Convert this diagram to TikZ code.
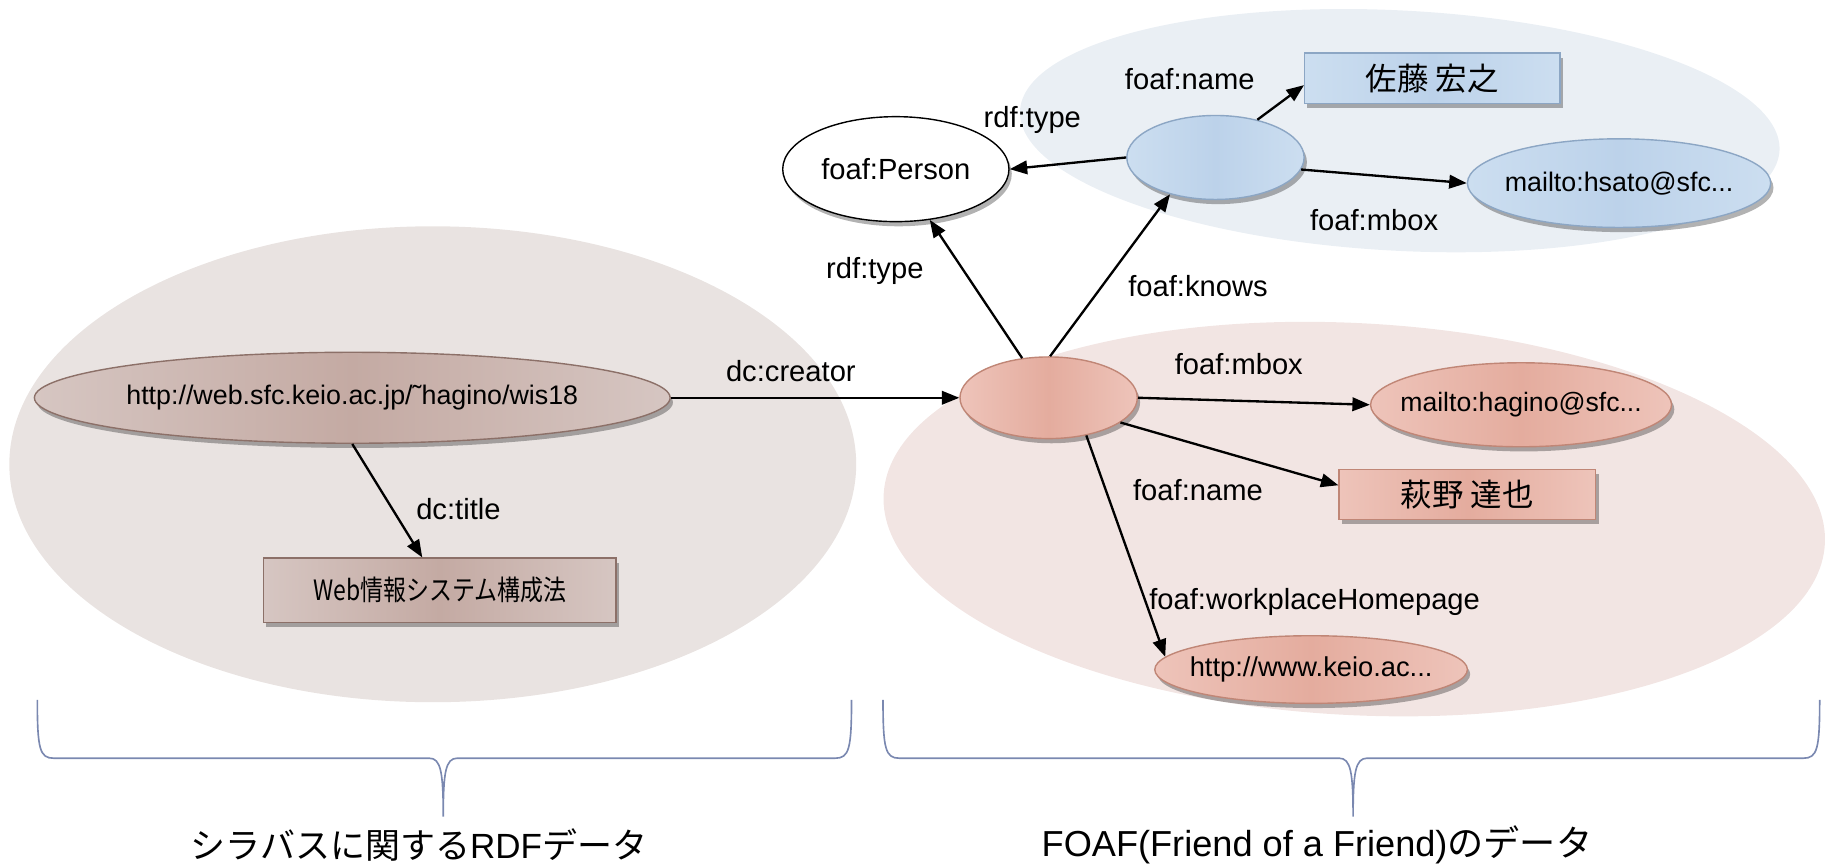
\documentclass[tikz,border=0pt]{standalone}
\usepackage{fontspec}
\setmainfont{Liberation Sans}
\newfontfamily\jp{Noto Sans CJK JP}
\newfontfamily\jpn[FakeStretch=0.82]{Noto Sans CJK JP}
\usetikzlibrary{arrows.meta,shapes.geometric,shadows}
\definecolor{leftbg}{RGB}{233,227,225}
\definecolor{pinkbg}{RGB}{242,229,227}
\definecolor{bluebg}{RGB}{234,239,244}
\definecolor{brownlt}{RGB}{214,198,194}
\definecolor{browndk}{RGB}{196,170,163}
\definecolor{browndraw}{RGB}{140,112,104}
\definecolor{pinklt}{RGB}{238,196,186}
\definecolor{pinkdk}{RGB}{228,172,158}
\definecolor{pinkdraw}{RGB}{192,134,118}
\definecolor{bluelt}{RGB}{204,222,240}
\definecolor{bluedk}{RGB}{188,210,234}
\definecolor{bluedraw}{RGB}{140,166,196}
\definecolor{bracecol}{RGB}{122,136,176}
\tikzset{
  shd/.style={drop shadow={shadow xshift=1.2pt,shadow yshift=-2pt,opacity=.3,fill=black}},
  ell/.style={ellipse,inner sep=0pt,shd},
  brownsh/.style={left color=brownlt,right color=brownlt,middle color=browndk,draw=browndraw,line width=0.6pt},
  pinksh/.style={left color=pinklt,right color=pinklt,middle color=pinkdk,draw=pinkdraw,line width=0.6pt},
  bluesh/.style={left color=bluelt,right color=bluelt,middle color=bluedk,draw=bluedraw,line width=0.6pt},
  brownell/.style={ell,brownsh},
  pinkell/.style={ell,pinksh},
  blueell/.style={ell,bluesh},
  brownbox/.style={rectangle,inner sep=0pt,shd,brownsh},
  pinkbox/.style={rectangle,inner sep=0pt,shd,pinksh},
  bluebox/.style={rectangle,inner sep=0pt,shd,bluesh},
  txt/.style={inner sep=0pt},
  lbl/.style={inner sep=0pt,font=\fontsize{12.5}{15}\selectfont},
  arr/.style={-{Triangle[length=7.5pt,width=5.8pt]},line width=1pt,black},
  brace/.style={draw=bracecol,line width=0.7pt},
}
\begin{document}
\begin{tikzpicture}[x=0.5pt,y=-0.5pt]
\useasboundingbox (0,0) rectangle (1568,740);
% backgrounds
\fill[leftbg] (371,398) ellipse [x radius=181.5pt,y radius=102pt];
\fill[pinkbg,rotate around={-3:(1161,445)}] (1161,445) ellipse [x radius=202pt,y radius=84pt];
\fill[bluebg,rotate around={-3:(1200,112)}] (1200,112) ellipse [x radius=163pt,y radius=51.5pt];
% nodes
\node[ell,draw=black,fill=white,line width=0.6pt,minimum width=97pt,minimum height=45pt,drop shadow={opacity=0}] (person) at (768,145) {};
\node[txt] (persont) at (person) {\fontsize{12.5}{15}\selectfont foaf:Person};
\node[blueell,minimum width=76pt,minimum height=36pt] (bnode) at (1042,135) {};
\node[bluebox,minimum width=109.5pt,minimum height=21.5pt] (sato) at (1228,67) {\jp\fontsize{13.5}{16}\selectfont 佐藤 宏之};
\node[blueell,minimum width=130pt,minimum height=38pt] (hsato) at (1388,157) {};
\node[txt] (hsatot) at (hsato) {\fontsize{11.5}{14}\selectfont mailto:hsato@sfc...};
\node[pinkell,minimum width=76pt,minimum height=35pt] (pnode) at (899,341) {};
\node[pinkell,minimum width=129pt,minimum height=36pt] (hmail) at (1304,347) {};
\node[txt] (hmailt) at (hmail) {\fontsize{11.4}{14}\selectfont mailto:hagino@sfc...};
\node[pinkbox,minimum width=110pt,minimum height=21.5pt] (hname) at (1258,424) {\jp\fontsize{13.5}{16}\selectfont 萩野 達也};
\node[pinkell,minimum width=134pt,minimum height=29pt] (keio) at (1124,574) {};
\node[txt] (keiot) at (keio) {\fontsize{11.7}{14}\selectfont http://www.keio.ac...};
\node[brownell,minimum width=272.5pt,minimum height=39pt] (wis) at (302,341) {};
\node[txt] (wist) at (wis) {\fontsize{11.5}{14}\selectfont http://web.sfc.keio.ac.jp/\char"02DC hagino/wis18};
\node[brownbox,minimum width=151pt,minimum height=27.5pt] (web) at (377,506) {\jpn\fontsize{12}{14}\selectfont Web情報システム構成法};
% edges
\draw[arr] (wis.east) -- (pnode.west);
\draw[arr] (wis.south) -- ([xshift=-7.5pt]web.north);
\draw[arr] (pnode) -- (person);
\draw[arr] (pnode.88) -- (bnode.-141);
\draw[arr] (bnode.west) -- (person.east);
\draw[arr] (bnode.42) -- ([yshift=-3pt]sato.west);
\draw[arr] (bnode.-8) -- (hsato.west);
\draw[arr] (pnode.east) -- (hmail.west);
\draw[arr] (pnode.-19) -- ([yshift=4pt]hname.west);
\draw[arr] (pnode.-45) -- (keio.175);
% labels
\node[lbl] (l1) at (678,318) {dc:creator};
\node[lbl] (l2) at (393,436) {dc:title};
\node[lbl] (l3) at (750,232) {rdf:type};
\node[lbl] (l4) at (1027,245) {foaf:knows};
\node[lbl] (l5) at (885,103) {rdf:type};
\node[lbl] (l6) at (1020,68) {foaf:name};
\node[lbl] (l7) at (1178,189) {foaf:mbox};
\node[lbl] (l8) at (1062,312) {foaf:mbox};
\node[lbl] (l9) at (1027,420) {foaf:name};
\node[lbl] (l10) at (1127,516) {foaf:workplaceHomepage};
% braces
\draw[brace] (32,600) .. controls (32,642) and (34,650) .. (46,650) -- (368,650) .. controls (378,650) and (380,662) .. (380,700)
  .. controls (380,662) and (382,650) .. (392,650) -- (716,650) .. controls (728,650) and (730,642) .. (730,600);
\draw[brace] (757,600) .. controls (757,642) and (759,650) .. (771,650) -- (1148,650) .. controls (1158,650) and (1160,662) .. (1160,700)
  .. controls (1160,662) and (1162,650) .. (1172,650) -- (1546,650) .. controls (1558,650) and (1560,642) .. (1560,600);
\node[inner sep=0pt] (t1) at (359,724) {\fontsize{15}{18}\selectfont{\jp シラバスに関する}RDF{\jp データ}};
\node[inner sep=0pt] (t2) at (1129,724) {\fontsize{15.5}{18}\selectfont FOAF(Friend of a Friend){\jp のデータ}};
\end{tikzpicture}
\end{document}
